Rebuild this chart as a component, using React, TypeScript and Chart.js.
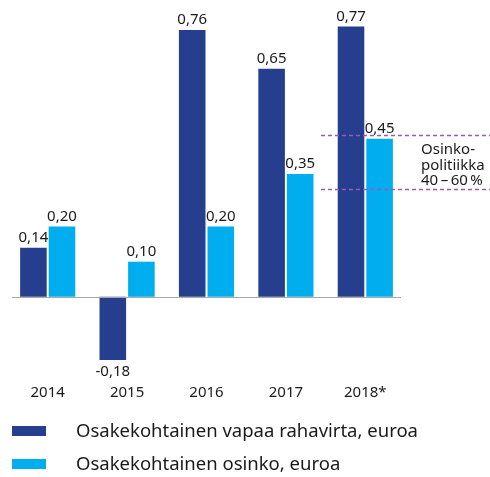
import React, { useEffect, useRef } from 'react';
import { Chart, registerables } from 'chart.js';

Chart.register(...registerables);

const categories = ['2014', '2015', '2016', '2017', '2018*'];
const freeCashFlow = [0.14, -0.18, 0.76, 0.65, 0.77];
const dividend = [0.2, 0.1, 0.2, 0.35, 0.45];
const seriesNames = ['Osakekohtainen vapaa rahavirta, euroa', 'Osakekohtainen osinko, euroa'];
const policyBase = 0.77;
const policyRange = [0.4, 0.6];
const policyLabel = ['Osinko-', 'politiikka', '40\u2009–\u200960\u2009%'];

const DARK = '#253f8e';
const LIGHT = '#00aeef';
const FONT = '"Noto Sans", sans-serif';

const fmt = (v: number) => v.toFixed(2).replace('.', ',');

const overlay = {
  id: 'overlay',
  afterDatasetsDraw(chart: any) {
    const ctx = chart.ctx;
    const y = chart.scales.y;
    ctx.save();
    // zero line
    const y0 = Math.round(y.getPixelForValue(0)) + 0.5;
    ctx.strokeStyle = '#a8a8a8';
    ctx.lineWidth = 1.2;
    ctx.beginPath();
    ctx.moveTo(12, y0);
    ctx.lineTo(401, y0);
    ctx.stroke();

    // data labels
    ctx.fillStyle = '#1a1a1a';
    ctx.font = `15px ${FONT}`;
    ctx.textAlign = 'center';
    chart.data.datasets.forEach((ds: any, di: number) => {
      const meta = chart.getDatasetMeta(di);
      meta.data.forEach((bar: any, i: number) => {
        const v = ds.data[i];
        if (v >= 0) {
          ctx.textBaseline = 'alphabetic';
          ctx.fillText(fmt(v), bar.x, bar.y - 6);
        } else {
          ctx.textBaseline = 'top';
          ctx.fillText(fmt(v), bar.x, bar.y + 4);
        }
      });
    });

    // policy dashed lines
    ctx.strokeStyle = '#9a58b8';
    ctx.lineWidth = 1.3;
    ctx.setLineDash([4, 3]);
    policyRange.forEach((p) => {
      const py = Math.round(y.getPixelForValue(p * policyBase)) + 0.5;
      ctx.beginPath();
      ctx.moveTo(321, py);
      ctx.lineTo(490, py);
      ctx.stroke();
    });
    ctx.setLineDash([]);

    // policy label
    ctx.fillStyle = '#1a1a1a';
    ctx.font = `15px ${FONT}`;
    ctx.textAlign = 'left';
    ctx.textBaseline = 'alphabetic';
    policyLabel.forEach((t, i) => {
      ctx.fillText(t, 421, 154 + i * 15.5);
    });

    // legend
    const colors = [DARK, LIGHT];
    ctx.font = `18.5px ${FONT}`;
    ctx.textBaseline = 'middle';
    seriesNames.forEach((name, i) => {
      const cy = 431 + i * 33;
      ctx.fillStyle = colors[i];
      ctx.fillRect(12, cy - 5, 34, 10);
      ctx.fillStyle = '#1a1a1a';
      ctx.fillText(name, 76, cy + 1);
    });
    ctx.restore();
  },
};

export default function App() {
  const ref = useRef<HTMLCanvasElement>(null);
  useEffect(() => {
    const chart = new Chart(ref.current!, {
      type: 'bar',
      data: {
        labels: categories,
        datasets: [
          { label: seriesNames[0], data: freeCashFlow, backgroundColor: DARK },
          { label: seriesNames[1], data: dividend, backgroundColor: LIGHT },
        ],
      },
      options: {
        animation: false,
        responsive: false,
        categoryPercentage: 0.72,
        barPercentage: 0.93,
        layout: { padding: { left: 8, right: 85, top: 16, bottom: 65 } },
        plugins: { legend: { display: false }, tooltip: { enabled: false } },
        scales: {
          x: {
            grid: { display: false, drawTicks: false },
            border: { display: false },
            ticks: { color: '#1a1a1a', font: { family: FONT, size: 15 }, padding: 10 },
          },
          y: { display: false, min: -0.22, max: 0.8 },
        },
      },
      plugins: [overlay],
    });
    return () => chart.destroy();
  }, []);
  return (
    <div style={{ position: 'fixed', left: 0, top: 0, width: 490, height: 477, background: '#fff' }}>
      <canvas ref={ref} width={490} height={477} />
    </div>
  );
}
